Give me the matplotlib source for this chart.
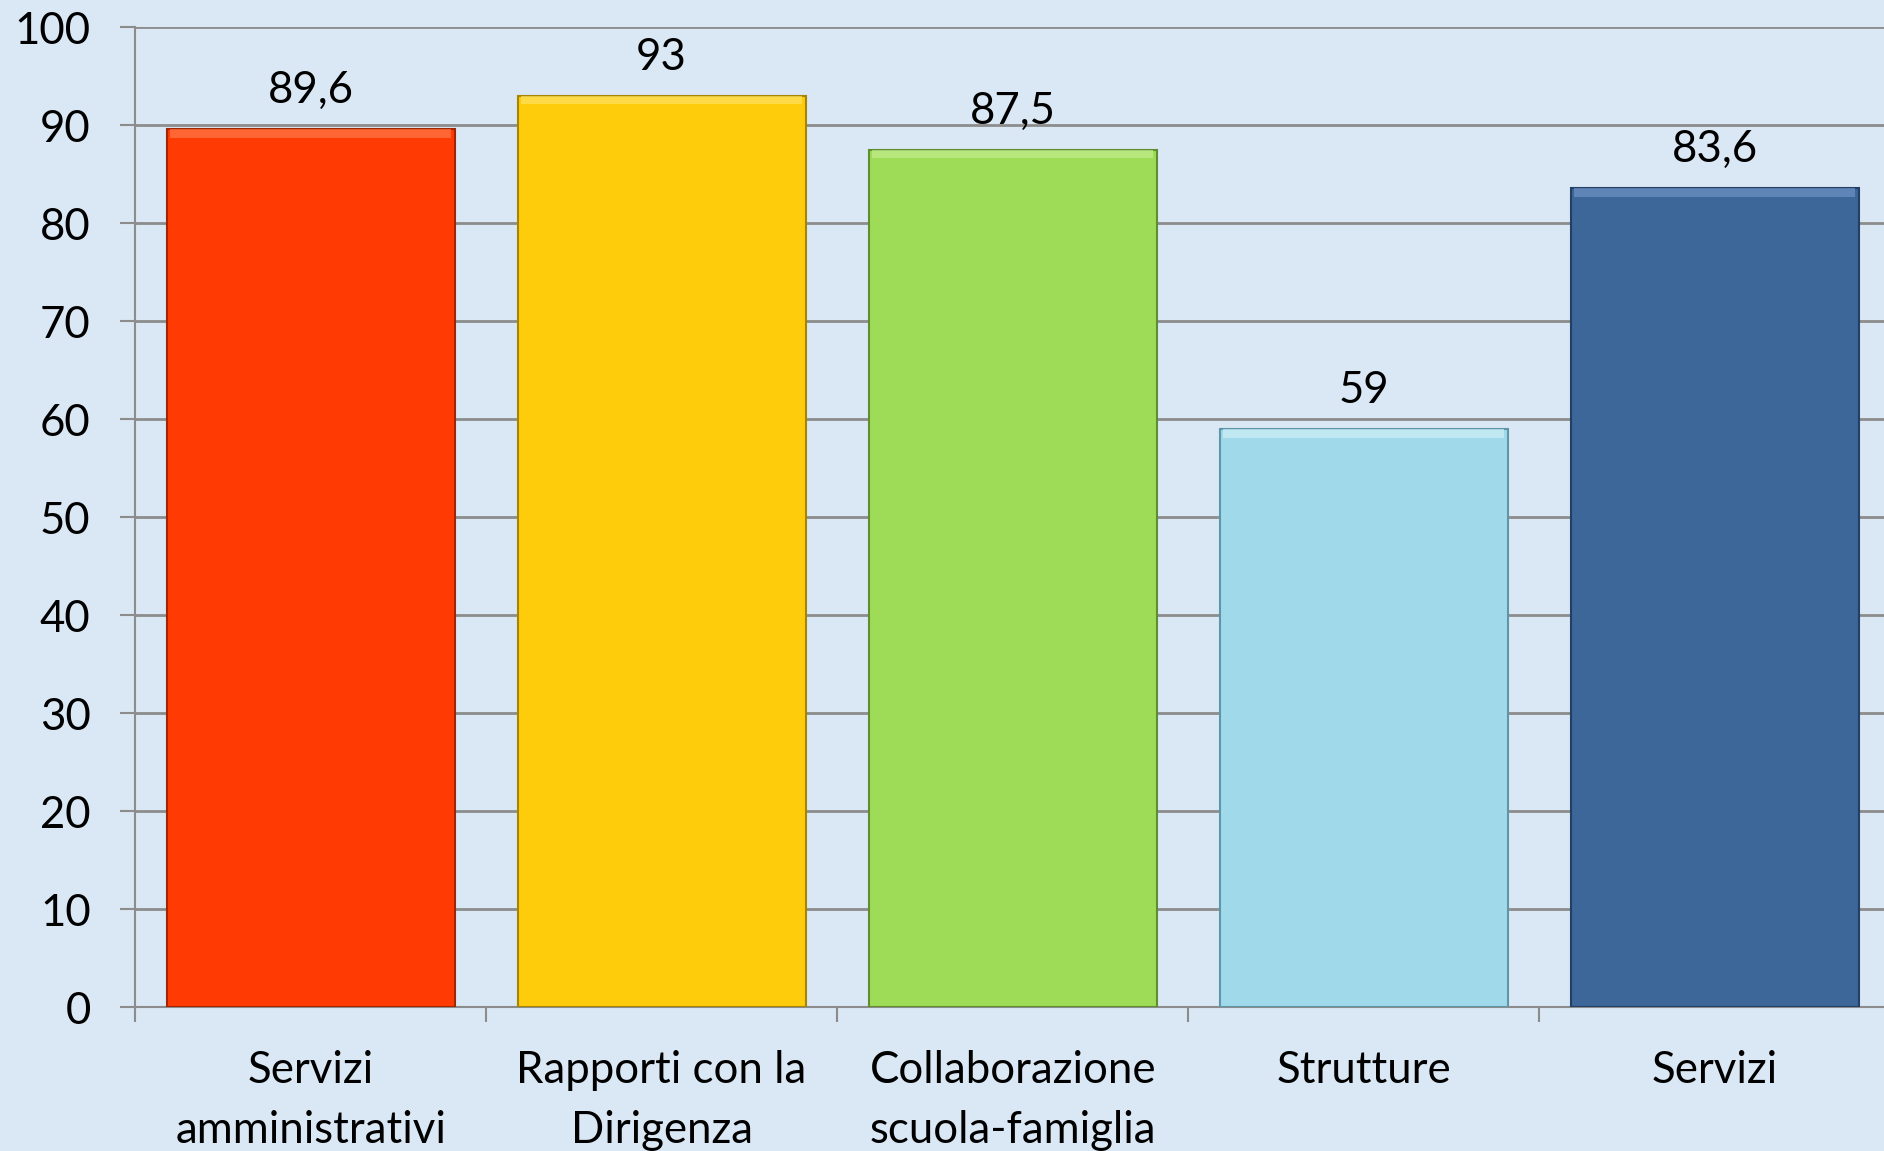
import matplotlib.pyplot as plt
import numpy as np

# data
categories = ['Servizi\namministrativi', 'Rapporti con la\nDirigenza',
              'Collaborazione\nscuola-famiglia', 'Strutture', 'Servizi']
values = [89.6, 93, 87.5, 59, 83.6]
value_labels = ['89,6', '93', '87,5', '59', '83,6']
colors = ['#FF3A03', '#FECC0A', '#9EDC58', '#9FD9EA', '#3D6699']
edges = ['#A32500', '#A88500', '#5E8E2E', '#5F97A8', '#223F66']
tops = ['#FF7A4A', '#FFE060', '#C2EC8E', '#CDEFF8', '#6E93C4']

plt.rcParams['font.family'] = ['Lato', 'DejaVu Sans']

fig = plt.figure(figsize=(18.84, 11.51), dpi=100)
fig.patch.set_facecolor('#DAE7F4')
ax = fig.add_axes([0.0717, 0.1251, 0.9316, 0.8514])
ax.set_facecolor('none')

x = np.arange(len(categories))
ax.bar(x, values, width=0.82, color=colors, edgecolor=edges, linewidth=1.5, zorder=3)
# bevel highlight on the top of each bar
ax.bar(x, [0.9] * len(values), bottom=np.array(values) - 0.9, width=0.80,
       color=tops, linewidth=0, zorder=4, alpha=0.7)

for xi, v, lab in zip(x, values, value_labels):
    ax.annotate(lab, (xi, v), xytext=(0, 13), textcoords='offset points',
                ha='center', va='bottom', fontsize=31.5, color='black')

ax.set_xlim(-0.5, 4.5)
ax.set_ylim(0, 100)
ax.set_yticks(range(0, 101, 10))
ax.set_xticks(np.arange(-0.5, 5, 1))
ax.set_xticklabels([])
ax.set_xticks(x, minor=True)
ax.set_xticklabels(categories, minor=True, fontsize=31.5, linespacing=1.58)
ax.tick_params(axis='x', which='minor', length=0, pad=31)
ax.tick_params(axis='x', which='major', length=11, width=1.5, color='#8C8C8C')
ax.tick_params(axis='y', length=11, width=1.5, color='#8C8C8C', pad=21, labelsize=31.5)

ax.grid(axis='y', color='#8C8C8C', linewidth=2, zorder=0)
for s in ['top', 'right']:
    ax.spines[s].set_visible(False)
for s in ['left', 'bottom']:
    ax.spines[s].set_color('#8C8C8C')
    ax.spines[s].set_linewidth(1.5)

fig.savefig('out.png', dpi=100, facecolor=fig.get_facecolor())
